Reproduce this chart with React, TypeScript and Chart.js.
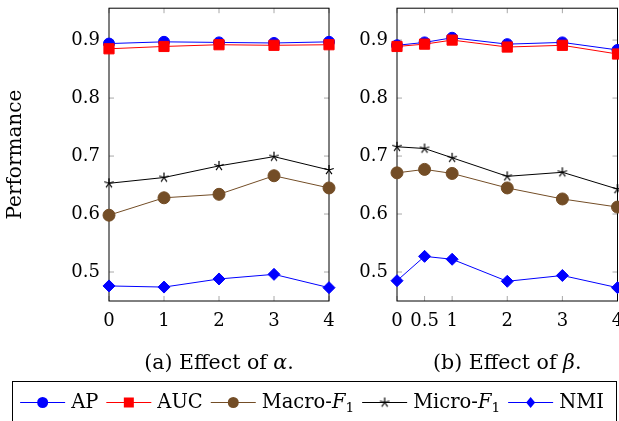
import React, { useEffect, useRef } from "react";
import { Chart, registerables } from "chart.js";
Chart.register(...registerables);

const FONT = "'DejaVu Serif', serif";

// ---- data ----
const alphaX = [0, 1, 2, 3, 4];
const betaX = [0, 0.5, 1, 2, 3, 4];
const alphaTicks = [0, 1, 2, 3, 4];
const betaTicks = [0, 0.5, 1, 2, 3, 4];
const yTicks = [0.5, 0.6, 0.7, 0.8, 0.9];

const alphaAP = [0.894, 0.897, 0.896, 0.895, 0.897];
const alphaAUC = [0.885, 0.889, 0.892, 0.891, 0.892];
const alphaMacro = [0.598, 0.628, 0.634, 0.666, 0.645];
const alphaMicro = [0.653, 0.663, 0.683, 0.699, 0.676];
const alphaNMI = [0.476, 0.474, 0.488, 0.496, 0.473];

const betaAP = [0.891, 0.896, 0.904, 0.893, 0.896, 0.883];
const betaAUC = [0.889, 0.893, 0.9, 0.888, 0.891, 0.876];
const betaMacro = [0.671, 0.677, 0.67, 0.645, 0.626, 0.612];
const betaMicro = [0.716, 0.713, 0.697, 0.665, 0.672, 0.643];
const betaNMI = [0.485, 0.527, 0.522, 0.484, 0.494, 0.473];

const seriesLabels = ["AP", "AUC", "Macro-F1", "Micro-F1", "NMI"];
const seriesColors = ["#0000ff", "#ff0000", "#734d26", "#000000", "#0000ff"];

type Part = { t: string; italic?: boolean; sub?: boolean };

const legendParts: Part[][] = [
  [{ t: "AP" }],
  [{ t: "AUC" }],
  [{ t: "Macro-" }, { t: "F", italic: true }, { t: "1", sub: true }],
  [{ t: "Micro-" }, { t: "F", italic: true }, { t: "1", sub: true }],
  [{ t: "NMI" }],
];

function setFont(ctx: CanvasRenderingContext2D, p: Part, size: number) {
  const s = p.sub ? size * 0.7 : size;
  ctx.font = `${p.italic ? "italic " : ""}${s}px ${FONT}`;
}
function richWidth(ctx: CanvasRenderingContext2D, parts: Part[], size: number) {
  let w = 0;
  for (const p of parts) {
    setFont(ctx, p, size);
    w += ctx.measureText(p.t).width;
  }
  return w;
}
function drawRich(ctx: CanvasRenderingContext2D, parts: Part[], x: number, y: number, size: number) {
  let cx = x;
  ctx.textAlign = "left";
  ctx.textBaseline = "alphabetic";
  for (const p of parts) {
    setFont(ctx, p, size);
    ctx.fillText(p.t, cx, p.sub ? y + size * 0.22 : y);
    cx += ctx.measureText(p.t).width;
  }
  return cx - x;
}

function makeStar(): HTMLCanvasElement {
  const c = document.createElement("canvas");
  c.width = 12;
  c.height = 12;
  const g = c.getContext("2d")!;
  g.strokeStyle = "#000";
  g.lineWidth = 1.2;
  g.beginPath();
  for (let k = 0; k < 5; k++) {
    const a = -Math.PI / 2 + (k * 2 * Math.PI) / 5;
    g.moveTo(6, 6);
    g.lineTo(6 + Math.cos(a) * 5, 6 + Math.sin(a) * 5);
  }
  g.stroke();
  return c;
}

function drawMarker(ctx: CanvasRenderingContext2D, i: number, x: number, y: number, star: HTMLCanvasElement) {
  const col = seriesColors[i];
  ctx.fillStyle = col;
  ctx.beginPath();
  if (i === 0 || i === 2) {
    ctx.arc(x, y, 5.5, 0, Math.PI * 2);
    ctx.fill();
  } else if (i === 1) {
    ctx.rect(x - 5, y - 5, 10, 10);
    ctx.fill();
  } else if (i === 4) {
    ctx.moveTo(x, y - 5.5);
    ctx.lineTo(x + 4.5, y);
    ctx.lineTo(x, y + 5.5);
    ctx.lineTo(x - 4.5, y);
    ctx.closePath();
    ctx.fill();
  } else {
    ctx.drawImage(star, x - star.width / 2, y - star.height / 2);
  }
}

function buildChart(
  canvas: HTMLCanvasElement,
  xs: number[],
  ys: number[][],
  xTicks: number[],
  cfg: {
    yWidth: number;
    showTitle: boolean;
    padding: { top: number; right: number; bottom: number; left: number };
    caption: Part[];
    legend: boolean;
    star: HTMLCanvasElement;
  }
) {
  const styles: any[] = ["circle", "rect", "circle", cfg.star, "rectRot"];
  const radii = [5.5, 7.2, 6, 5, 6];
  const datasets = ys.map((arr, i) => ({
    label: seriesLabels[i],
    data: xs.map((x, j) => ({ x, y: arr[j] })),
    borderColor: seriesColors[i],
    backgroundColor: seriesColors[i],
    pointBackgroundColor: seriesColors[i],
    pointBorderColor: seriesColors[i],
    borderWidth: 1,
    pointBorderWidth: i === 3 ? 0 : 1,
    pointStyle: styles[i],
    pointRadius: radii[i],
    tension: 0,
    clip: false as any,
    order: 4 - i,
  }));

  const framePlugin = {
    id: "frame",
    beforeDatasetsDraw(chart: any) {
      const { ctx, chartArea } = chart;
      const { left, right, top, bottom } = chartArea;
      const xs = chart.scales.x;
      const ysc = chart.scales.y;
      ctx.save();
      ctx.strokeStyle = "#a8a8a8";
      ctx.lineWidth = 1;
      ctx.beginPath();
      for (const v of xTicks) {
        const px = xs.getPixelForValue(v);
        ctx.moveTo(px, bottom);
        ctx.lineTo(px, bottom - 5);
        ctx.moveTo(px, top);
        ctx.lineTo(px, top + 5);
      }
      for (const v of yTicks) {
        const py = ysc.getPixelForValue(v);
        ctx.moveTo(left, py);
        ctx.lineTo(left + 5, py);
        ctx.moveTo(right, py);
        ctx.lineTo(right - 5, py);
      }
      ctx.stroke();
      ctx.strokeStyle = "#000";
      ctx.lineWidth = 1;
      ctx.strokeRect(left, top, right - left, bottom - top);
      ctx.restore();
    },
    afterDraw(chart: any) {
      const { ctx, chartArea } = chart;
      ctx.save();
      ctx.fillStyle = "#000";
      const capSize = 20.5;
      const cw = richWidth(ctx, cfg.caption, capSize);
      const cx = (chartArea.left + chartArea.right) / 2;
      drawRich(ctx, cfg.caption, cx - cw / 2, 368.5, capSize);
      if (cfg.legend) {
        ctx.strokeStyle = "#000";
        ctx.lineWidth = 1;
        ctx.strokeRect(12.5, 381.5, 604, 60);
        const size = 19.5;
        const lineLen = 45;
        const gapA = 6;
        const gapB = 8;
        const widths = legendParts.map((p) => richWidth(ctx, p, size));
        let total = 0;
        widths.forEach((w, i) => {
          total += lineLen + gapA + w + (i < widths.length - 1 ? gapB : 0);
        });
        let x = 312 - total / 2;
        const ly = 402.5;
        widths.forEach((w, i) => {
          const ds = chart.data.datasets[i];
          ctx.strokeStyle = ds.borderColor;
          ctx.lineWidth = 1;
          ctx.beginPath();
          ctx.moveTo(x, ly);
          ctx.lineTo(x + lineLen, ly);
          ctx.stroke();
          drawMarker(ctx, i, x + lineLen / 2, ly, cfg.star);
          ctx.fillStyle = "#000";
          drawRich(ctx, legendParts[i], x + lineLen + gapA, 408, size);
          x += lineLen + gapA + w + gapB;
        });
      }
      ctx.restore();
    },
  };

  return new Chart(canvas, {
    type: "line",
    data: { datasets: datasets as any },
    options: {
      animation: false,
      responsive: false,
      maintainAspectRatio: false,
      layout: { padding: cfg.padding },
      plugins: {
        legend: { display: false },
        tooltip: { enabled: false },
        title: { display: false },
      },
      scales: {
        x: {
          type: "linear",
          min: 0,
          max: 4,
          afterBuildTicks: (s: any) => {
            s.ticks = xTicks.map((v) => ({ value: v }));
          },
          afterFit: (s: any) => {
            s.height = 30;
            s.paddingLeft = 0;
            s.paddingRight = 0;
          },
          grid: { display: false, drawTicks: false },
          border: { display: false },
          ticks: {
            autoSkip: false,
            maxRotation: 0,
            minRotation: 0,
            padding: 10,
            color: "#000",
            font: { family: FONT, size: 18 },
            callback: (v: any) => String(v),
          },
        },
        y: {
          type: "linear",
          min: 0.45,
          max: 0.955,
          afterBuildTicks: (s: any) => {
            s.ticks = yTicks.map((v) => ({ value: v }));
          },
          afterFit: (s: any) => {
            s.width = cfg.yWidth;
            s.paddingTop = 0;
            s.paddingBottom = 0;
          },
          grid: { display: false, drawTicks: false },
          border: { display: false },
          ticks: {
            padding: 9,
            color: "#000",
            font: { family: FONT, size: 18 },
            callback: (v: any) => Number(v).toFixed(1),
          },
          title: {
            display: cfg.showTitle,
            text: "Performance",
            color: "#000",
            font: { family: FONT, size: 20 },
            padding: { top: 4, bottom: 0 },
          },
        },
      },
    },
    plugins: [framePlugin],
  } as any);
}

export default function App() {
  const leftRef = useRef<HTMLCanvasElement>(null);
  const rightRef = useRef<HTMLCanvasElement>(null);

  useEffect(() => {
    document.body.style.margin = "0";
    const star = makeStar();
    const c1 = buildChart(
      leftRef.current!,
      alphaX,
      [alphaAP, alphaAUC, alphaMacro, alphaMicro, alphaNMI],
      alphaTicks,
      {
        yWidth: 109,
        showTitle: true,
        padding: { top: 5, right: 290, bottom: 90, left: 0 },
        caption: [{ t: "(a) Effect of " }, { t: "α", italic: true }, { t: "." }],
        legend: true,
        star,
      }
    );
    const c2 = buildChart(
      rightRef.current!,
      betaX,
      [betaAP, betaAUC, betaMacro, betaMicro, betaNMI],
      betaTicks,
      {
        yWidth: 52,
        showTitle: false,
        padding: { top: 5, right: 27.5, bottom: 90, left: 0 },
        caption: [{ t: "(b) Effect of " }, { t: "β", italic: true }, { t: "." }],
        legend: false,
        star,
      }
    );
    return () => {
      c1.destroy();
      c2.destroy();
    };
  }, []);

  return (
    <div style={{ position: "relative", width: 619, height: 421, overflow: "hidden", background: "#fff" }}>
      <canvas ref={leftRef} width={619} height={421} style={{ position: "absolute", left: 0, top: 0 }} />
      <canvas ref={rightRef} width={300} height={421} style={{ position: "absolute", left: 345, top: 0 }} />
    </div>
  );
}
